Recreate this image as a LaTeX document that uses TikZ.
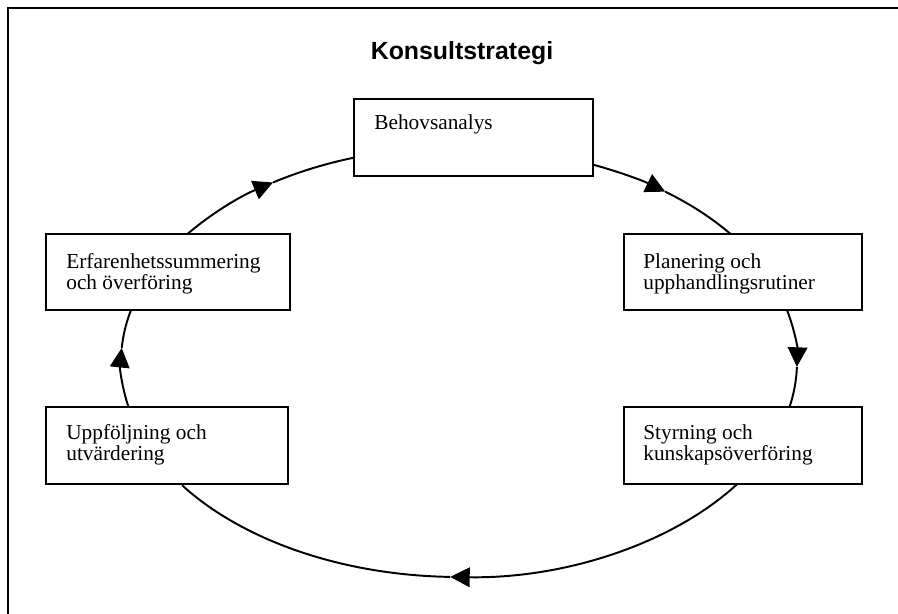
\documentclass[tikz,border=0pt]{standalone}
\usepackage{fontspec}
\setmainfont{Liberation Serif}
\newfontfamily\titlefont{Liberation Sans}
\usetikzlibrary{arrows.meta,calc}
\begin{document}
\begin{tikzpicture}[x=0.563pt,y=-0.563pt,
  box/.style={draw,line width=1.2pt,fill=white,rectangle,inner sep=0pt,anchor=north west},
  txt/.style={anchor=base west,align=left,inner sep=0pt,font=\fontsize{12}{12}\selectfont},
  ring/.style={line width=1.1pt},
  tipped/.style={ring,-{Triangle[length=11pt,width=11pt]}},
  frameline/.style={line width=1.2pt}]
\useasboundingbox (0,0) rectangle (898,614);
% frame
\coordinate (ftr) at (898,8);
\coordinate (ftl) at (8,8);
\coordinate (fbl) at (8,614);
\draw[frameline] (ftr) -- (ftl) -- (fbl);
% title
\node[font=\titlefont\bfseries\fontsize{14}{16}\selectfont, anchor=base] (title) at (462,60) {Konsultstrategi};
% cycle (ellipse centre C, radii 338 x 215)
\coordinate (C) at (459,362);
\draw[tipped] ([shift={(-67.5:338 and 215)}]C) arc[start angle=-67.5, end angle=-52.4, x radius=338, y radius=215];
\draw[ring] ([shift={(-52.4:338 and 215)}]C) arc[start angle=-52.4, end angle=-36.5, x radius=338, y radius=215];
\draw[tipped] ([shift={(-14:338 and 215)}]C) arc[start angle=-14, end angle=1.3, x radius=338, y radius=215];
\draw[ring] ([shift={(1.3:338 and 215)}]C) arc[start angle=1.3, end angle=12, x radius=338, y radius=215];
\draw[tipped] ([shift={(34.5:338 and 215)}]C) arc[start angle=34.5, end angle=91.5, x radius=338, y radius=215];
\draw[ring] ([shift={(91.5:338 and 215)}]C) arc[start angle=91.5, end angle=145, x radius=338, y radius=215];
\draw[tipped] ([shift={(168:338 and 215)}]C) arc[start angle=168, end angle=183.75, x radius=338, y radius=215];
\draw[ring] ([shift={(183.75:338 and 215)}]C) arc[start angle=183.75, end angle=194, x radius=338, y radius=215];
\draw[tipped] ([shift={(216.5:338 and 215)}]C) arc[start angle=216.5, end angle=236.6, x radius=338, y radius=215];
\draw[ring] ([shift={(236.6:338 and 215)}]C) arc[start angle=236.6, end angle=252, x radius=338, y radius=215];
% boxes
\node[box, minimum width=134.6pt, minimum height=43.4pt] (beh) at (353,98) {};
\node[box, minimum width=137.4pt, minimum height=42.8pt] (erf) at (45,233) {};
\node[box, minimum width=134pt, minimum height=42.8pt] (pla) at (623,233) {};
\node[box, minimum width=136.2pt, minimum height=43.4pt] (upp) at (45,406) {};
\node[box, minimum width=134pt, minimum height=43.4pt] (sty) at (623,406) {};
% texts (base anchor = baseline of the last line)
\node[txt] (behT) at ($(beh.north west)+(21,32)$) {Behovsanalys};
\node[txt] (erfT) at ($(erf.north west)+(21,57)$) {Erfarenhetssummering\\och överföring};
\node[txt] (plaT) at ($(pla.north west)+(20,57)$) {Planering och\\upphandlingsrutiner};
\node[txt] (uppT) at ($(upp.north west)+(21,55)$) {Uppföljning och\\utvärdering};
\node[txt] (styT) at ($(sty.north west)+(20,55)$) {Styrning och\\kunskapsöverföring};
\end{tikzpicture}
\end{document}
